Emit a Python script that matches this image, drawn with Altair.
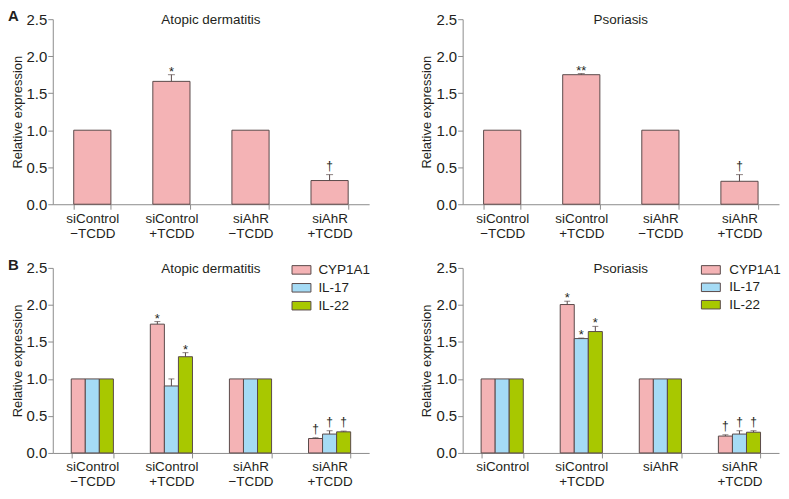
import altair as alt
import pandas as pd

# ---------------- data ----------------
cats_std = ["siControl\n\u2212TCDD", "siControl\n+TCDD", "siAhR\n\u2212TCDD", "siAhR\n+TCDD"]
cats_bpso = ["siControl", "siControl\n+TCDD", "siAhR", "siAhR\n+TCDD"]
genes = ["CYP1A1", "IL-17", "IL-22"]

# Panel A - Atopic dermatitis
a_ad_val = [1.0, 1.66, 1.0, 0.32]
a_ad_up = [1.0, 1.75, 1.0, 0.40]
a_ad_ann = ["", "*", "", "\u2020"]
# Panel A - Psoriasis
a_ps_val = [1.0, 1.75, 1.0, 0.31]
a_ps_up = [1.0, 1.765, 1.0, 0.40]
a_ps_ann = ["", "**", "", "\u2020"]

# Panel B - Atopic dermatitis
b_ad_cyp = [1.0, 1.74, 1.0, 0.195]
b_ad_cyp_up = [1.0, 1.775, 1.0, 0.205]
b_ad_il17 = [1.0, 0.905, 1.0, 0.255]
b_ad_il17_up = [1.0, 1.0, 1.0, 0.30]
b_ad_il22 = [1.0, 1.30, 1.0, 0.285]
b_ad_il22_up = [1.0, 1.355, 1.0, 0.295]
b_ad_ann_cyp = ["", "*", "", "\u2020"]
b_ad_ann_il17 = ["", "", "", "\u2020"]
b_ad_ann_il22 = ["", "*", "", "\u2020"]

# Panel B - Psoriasis
b_ps_cyp = [1.0, 2.005, 1.0, 0.228]
b_ps_cyp_up = [1.0, 2.05, 1.0, 0.245]
b_ps_il17 = [1.0, 1.545, 1.0, 0.255]
b_ps_il17_up = [1.0, 1.552, 1.0, 0.30]
b_ps_il22 = [1.0, 1.64, 1.0, 0.28]
b_ps_il22_up = [1.0, 1.71, 1.0, 0.30]
b_ps_ann_cyp = ["", "*", "", "\u2020"]
b_ps_ann_il17 = ["", "*", "", "\u2020"]
b_ps_ann_il22 = ["", "*", "", "\u2020"]

y_ticks = [0.0, 0.5, 1.0, 1.5, 2.0, 2.5]

# ---------------- style ----------------
PINK = "#F4B3B5"
BLUE = "#A5DBF5"
GREEN = "#A8C800"
GENE_COLORS = [PINK, BLUE, GREEN]
OUTLINE = "#5a4a4a"
AXIS_GRAY = "#8c8c8c"
TEXT = "#231f20"
W, H = 318, 186
FONT = "Liberation Sans"
SWATCH = "M-1,-0.45H1V0.45H-1Z"
# library legend lives in the root group, whose origin is the top-left plot's corner
ROW_OFFSET = 249


def y_enc(field):
    return alt.Y(
        f"{field}:Q",
        scale=alt.Scale(domain=[0, 2.5], nice=False, zero=True),
        axis=alt.Axis(values=y_ticks, format=".1f", title="Relative expression", grid=False),
    )


def x_enc(cats, p_in, p_out):
    return alt.X(
        "cat:N",
        sort=cats,
        scale=alt.Scale(domain=cats, paddingInner=p_in, paddingOuter=p_out),
        axis=alt.Axis(title=None, labelAngle=0, tickBand="extent",
                      labelExpr="split(datum.label, '\\n')"),
    )


def overlay_texts(title, letter):
    layers = [
        alt.Chart(pd.DataFrame({"t": [title]})).mark_text(
            fontSize=13.5, baseline="middle", align="center", color=TEXT
        ).encode(text="t:N", x=alt.value(W / 2), y=alt.value(1))
    ]
    if letter:
        layers.append(
            alt.Chart(pd.DataFrame({"t": [letter]})).mark_text(
                fontSize=15, fontWeight="bold", baseline="top", align="left", color=TEXT
            ).encode(text="t:N", x=alt.value(-45), y=alt.value(-10))
        )
    return layers


def panel_single(cats, vals, ups, anns, title, letter=None):
    df = pd.DataFrame({"cat": cats, "val": vals, "up": ups, "ann": anns})
    base = alt.Chart(df)
    x = x_enc(cats, 0.53, 0.265)
    bars = base.mark_bar(fill=PINK, stroke=OUTLINE, strokeWidth=1).encode(x=x, y=y_enc("val"))
    eb = base.transform_filter("datum.up > datum.val")
    rule = eb.mark_rule(color=OUTLINE, strokeWidth=1).encode(x=x, y=y_enc("val"), y2="up:Q")
    cap = eb.mark_tick(color=OUTLINE, orient="horizontal", size=7, thickness=1).encode(x=x, y=y_enc("up"))
    star = base.transform_filter("indexof(datum.ann, '*') >= 0").mark_text(
        fontSize=13, baseline="alphabetic", dy=1, color=TEXT
    ).encode(x=x, y=y_enc("up"), text="ann:N")
    dag = base.transform_filter("datum.ann == '\u2020'").mark_text(
        fontSize=12, baseline="alphabetic", dy=-5, color=TEXT
    ).encode(x=x, y=y_enc("up"), text="ann:N")
    return alt.layer(bars, rule, cap, star, dag, *overlay_texts(title, letter)).properties(width=W, height=H)


def group_layers(cats, series, title, letter, gfield, legend):
    rows = []
    for g, (vals, ups, anns) in zip(genes, series):
        for c, v, u, a in zip(cats, vals, ups, anns):
            rows.append({"cat": c, gfield: g, "val": v, "up": u, "ann": a})
    df = pd.DataFrame(rows)
    base = alt.Chart(df)
    x = x_enc(cats, 0.467, 0.2335)
    xo = alt.XOffset(f"{gfield}:N", sort=genes, scale=alt.Scale(domain=genes, paddingInner=0, paddingOuter=0))
    color = alt.Color(
        f"{gfield}:N",
        sort=genes,
        scale=alt.Scale(range=GENE_COLORS),
        legend=legend,
    )
    bars = base.mark_bar(stroke=OUTLINE, strokeWidth=1, opacity=1).encode(
        x=x, xOffset=xo, y=y_enc("val"), fill=color
    )
    eb = base.transform_filter("datum.up > datum.val")
    rule = eb.mark_rule(color=OUTLINE, strokeWidth=1).encode(x=x, xOffset=xo, y=y_enc("val"), y2="up:Q")
    cap = eb.mark_tick(color=OUTLINE, orient="horizontal", size=6, thickness=1).encode(
        x=x, xOffset=xo, y=y_enc("up"))
    star = base.transform_filter("indexof(datum.ann, '*') >= 0").mark_text(
        fontSize=13, baseline="alphabetic", dy=1, color=TEXT
    ).encode(x=x, xOffset=xo, y=y_enc("up"), text="ann:N")
    dag = base.transform_filter("datum.ann == '\u2020'").mark_text(
        fontSize=12, baseline="alphabetic", dy=-5, color=TEXT
    ).encode(x=x, xOffset=xo, y=y_enc("up"), text="ann:N")
    return alt.layer(bars, rule, cap, star, dag, *overlay_texts(title, letter))


lib_legend = alt.Legend(
    title=None, orient="none", legendX=240, legendY=ROW_OFFSET - 7,
    symbolType=SWATCH, symbolSize=361,
    symbolStrokeColor=OUTLINE, symbolStrokeWidth=1, symbolOpacity=1,
    labelFontSize=13.5, labelColor=TEXT, labelOffset=7, rowPadding=1, padding=0,
)

aL = panel_single(cats_std, a_ad_val, a_ad_up, a_ad_ann, "Atopic dermatitis", "A")
aR = panel_single(cats_std, a_ps_val, a_ps_up, a_ps_ann, "Psoriasis")
bL = group_layers(cats_std, [(b_ad_cyp, b_ad_cyp_up, b_ad_ann_cyp),
                             (b_ad_il17, b_ad_il17_up, b_ad_ann_il17),
                             (b_ad_il22, b_ad_il22_up, b_ad_ann_il22)], "Atopic dermatitis", "B",
                  "gene_ad", lib_legend).properties(width=W, height=H)

bR_main = group_layers(cats_bpso, [(b_ps_cyp, b_ps_cyp_up, b_ps_ann_cyp),
                                   (b_ps_il17, b_ps_il17_up, b_ps_ann_il17),
                                   (b_ps_il22, b_ps_il22_up, b_ps_ann_il22)], "Psoriasis", None,
                       "gene_ps", lib_legend)

# key for the right-hand B panel, drawn from the gene list through its own point scale
key_df = pd.DataFrame({"key": genes, "col": GENE_COLORS})
key_y = alt.Y("key:N", sort=genes, scale=alt.Scale(domain=genes, range=[2, 37], padding=0), axis=None)
key_sw = alt.Chart(key_df).mark_point(
    shape=SWATCH, size=361, filled=True, opacity=1, stroke=OUTLINE, strokeWidth=1
).encode(x=alt.value(249.5), y=key_y, fill=alt.Fill("col:N", scale=None, legend=None))
key_tx = alt.Chart(key_df).mark_text(
    align="left", baseline="middle", fontSize=13.5, color=TEXT
).encode(x=alt.value(268), y=key_y, text="key:N")
bR = alt.layer(bR_main, alt.layer(key_sw, key_tx)).resolve_scale(y="independent").properties(
    width=W, height=H)

chart = alt.concat(aL, aR, bL, bR, columns=2, spacing={"row": 18, "column": 52}).properties(
    padding=0
).configure(font=FONT).configure_view(stroke=None).configure_axis(
    domainColor=AXIS_GRAY, tickColor=AXIS_GRAY, labelColor=TEXT, titleColor=TEXT,
    tickSize=5, domainWidth=1, tickWidth=1,
).configure_axisY(
    labelFontSize=15, labelPadding=1, titleFontSize=13, titleFontWeight="normal", titlePadding=2,
).configure_axisX(
    labelFontSize=13.5, labelLineHeight=15, labelPadding=2,
)

chart.save("out.html", embed_options={"renderer": "svg", "actions": False})
